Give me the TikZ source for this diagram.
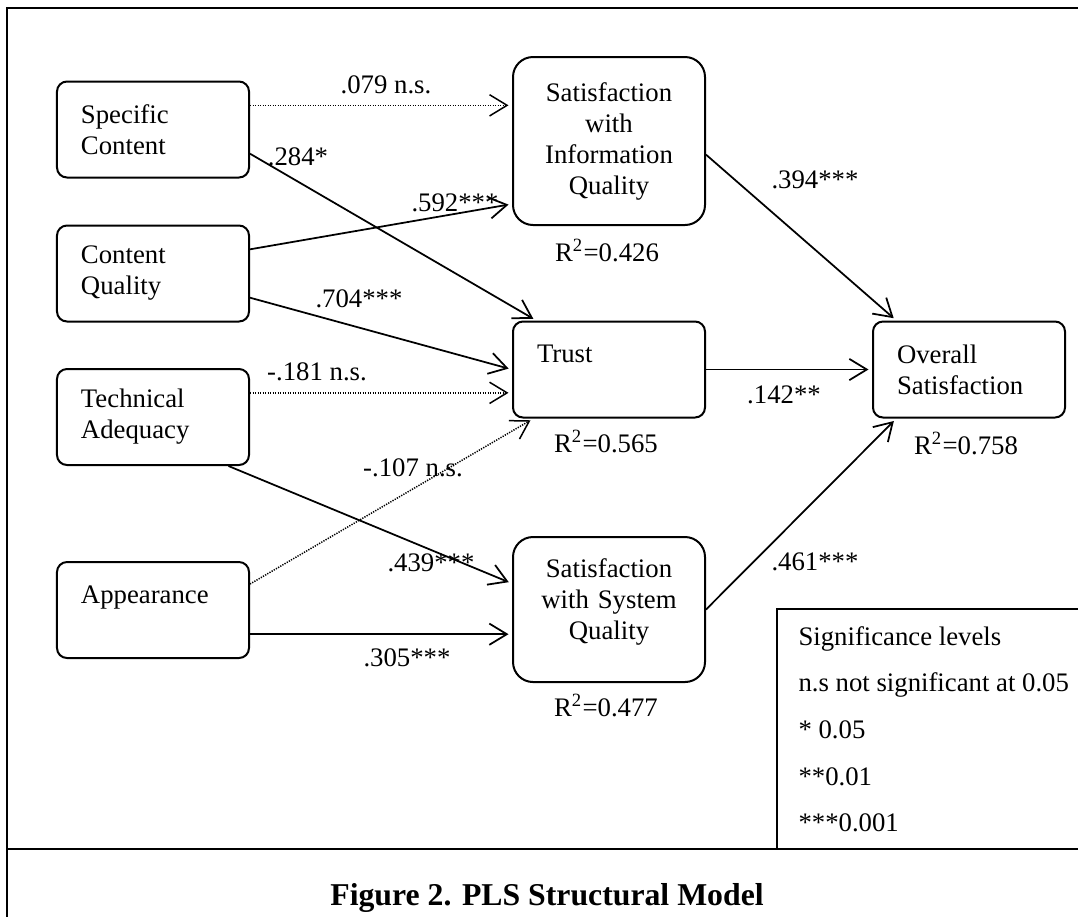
\documentclass[tikz,border=0pt]{standalone}
\usepackage{fontspec}
\setmainfont{Liberation Serif}
\usetikzlibrary{arrows.meta, calc, positioning}

\begin{document}
\begin{tikzpicture}[x=0.4pt, y=-0.4pt, font=\fontsize{10.7}{12.4}\selectfont,
  latent/.style={draw, line width=0.8pt, rounded corners=4pt, text width=57.6pt, inner xsep=9.6pt, minimum height=38.4pt, align=left},
  dependent/.style={draw, line width=0.8pt, rounded corners=8pt, text width=65pt, inner xsep=5.9pt, align=center},
  effect/.style={line width=0.7pt, shorten >=1.4pt, -{Straight Barb[length=7pt, width=8.5pt]}},
  noeffect/.style={effect, line width=0.6pt, dash pattern=on 0.5pt off 0.5pt},
  coef/.style={inner sep=0pt}]
  \clip (0, 0) rectangle (1078, 916) ;

  \draw[line width=0.8pt] (7, 930) -- (7, 8) -- (1090, 8) (7, 849) -- (1090, 849) ;
  \draw[line width=0.6pt] (777, 849) -- (777, 609) -- (1090, 609) ;

  \node[latent] (SpecCont) at (153, 129.5) {Specific\\Content} ;
  \node[latent] (ContQual) at (153, 273.5) {Content\\Quality} ;
  \node[latent] (TechAdeq) at (153, 417) {Technical\\Adequacy} ;
  \node[latent] (Appear) at (153, 610) {Appearance\\~} ;

  \node[dependent, minimum height=67.2pt] (SatInfo) at (609, 141) {Satisfaction\\with\\Information\\Quality} ;
  \node[latent] (Trust) at (609, 369.5) {Trust\\~} ;
  \node[dependent, minimum height=58pt] (SatSys) at (609, 609.5) {Satisfaction\\with System\\Quality\\[-4pt]~} ;
  \node[latent] (Overall) at (969, 369.5) {Overall\\Satisfaction} ;

  \node[coef, anchor=base] (RInfo) at (607, 261) {R\textsuperscript{2}=0.426} ;
  \node[coef, anchor=base] (RTrust) at (606, 452) {R\textsuperscript{2}=0.565} ;
  \node[coef, anchor=base] (ROverall) at (966, 454) {R\textsuperscript{2}=0.758} ;
  \node[coef, anchor=base] (RSys) at (606, 716) {R\textsuperscript{2}=0.477} ;

  \draw[noeffect] (SpecCont.14) -- (SpecCont.14 -| SatInfo.west) ;
  \draw[effect] (SpecCont.-14) -- (Trust.146) ;
  \draw[effect] (ContQual.14) -- (SatInfo.213) ;
  \draw[effect] (ContQual.-14) -- (Trust.west) ;
  \draw[noeffect] (TechAdeq.14) -- (TechAdeq.14 -| Trust.west) ;
  \draw[noeffect] (Appear.15) -- (Trust.213) ;
  \draw[effect] (TechAdeq.-33) -- (SatSys.165) ;
  \draw[effect] (Appear.-14) -- (Appear.-14 -| SatSys.west) ;
  \draw[effect] (SatInfo.-8) -- (Overall.146) ;
  \draw[effect] (Trust.east) -- (Overall.west) ;
  \draw[effect] (SatSys.east) -- (Overall.214) ;

  \node[coef] (b079) at (386, 85) {.079 n.s.} ;
  \node[coef] (b284) at (298, 157) {.284*} ;
  \node[coef] (b592) at (455, 203) {.592***} ;
  \node[coef] (b704) at (359, 299) {.704***} ;
  \node[coef] (b181) at (317, 372) {-.181 n.s.} ;
  \node[coef] (b107) at (413, 468) {-.107 n.s.} ;
  \node[coef] (b439) at (431, 563) {.439***} ;
  \node[coef] (b305) at (407, 658) {.305***} ;
  \node[coef] (b394) at (815, 180) {.394***} ;
  \node[coef] (b142) at (784, 395) {.142**} ;
  \node[coef] (b461) at (815, 562) {.461***} ;

  \node[coef, anchor=base west] (SigHead) at (798, 645) {Significance levels} ;
  \node[coef, anchor=base west] (SigNs) at (798, 691) {n.s not significant at 0.05} ;
  \node[coef, anchor=base west] (SigOne) at (798, 738) {* 0.05} ;
  \node[coef, anchor=base west] (SigTwo) at (798, 785) {**0.01} ;
  \node[coef, anchor=base west] (SigThree) at (798, 831) {***0.001} ;

  \node[coef, anchor=base, font=\fontsize{12.7}{15}\selectfont\bfseries] (Caption) at (547, 905) {Figure 2. PLS Structural Model} ;

\end{tikzpicture}
\end{document}
